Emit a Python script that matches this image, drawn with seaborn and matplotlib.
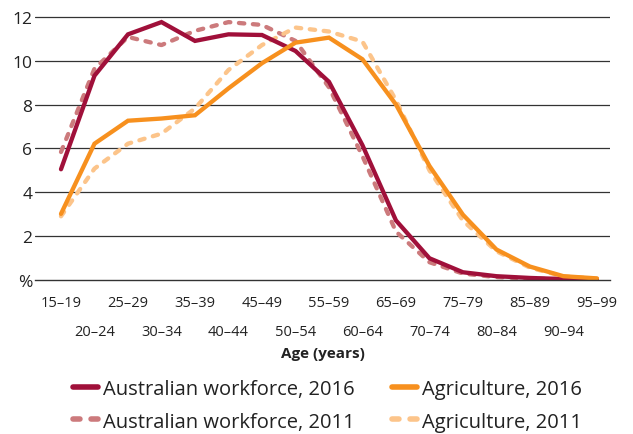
import pandas as pd
import matplotlib.pyplot as plt
import seaborn as sns

sns.set_style("white")
plt.rcParams['font.family'] = ['Open Sans', 'DejaVu Sans']

age_groups = ['15–19', '20–24', '25–29', '30–34', '35–39', '40–44', '45–49',
              '50–54', '55–59', '60–64', '65–69', '70–74', '75–79', '80–84',
              '85–89', '90–94', '95–99']

workforce_2016 = [5.05, 9.33, 11.22, 11.78, 10.92, 11.22, 11.19, 10.46, 9.05,
                  6.15, 2.71, 0.98, 0.34, 0.16, 0.08, 0.03, 0.01]
workforce_2011 = [5.84, 9.65, 11.1, 10.73, 11.38, 11.78, 11.65, 10.92, 8.8,
                  5.65, 2.2, 0.8, 0.28, 0.12, 0.05, 0.02, 0.01]
agri_2016 = [3.01, 6.22, 7.27, 7.37, 7.52, 8.75, 9.9, 10.84, 11.07,
             10.08, 8.01, 5.2, 2.97, 1.38, 0.6, 0.16, 0.06]
agri_2011 = [2.9, 5.08, 6.22, 6.68, 7.83, 9.59, 10.73, 11.53, 11.35,
             10.89, 8.21, 5.0, 2.7, 1.3, 0.55, 0.15, 0.05]

series_names = ['Australian workforce, 2016', 'Australian workforce, 2011',
                'Agriculture, 2016', 'Agriculture, 2011']
series_values = [workforce_2016, workforce_2011, agri_2016, agri_2011]
colors = ['#a0103a', '#cc7a7c', '#f7901e', '#fcc48a']
dashed = [False, True, False, True]

rows = []
for name, vals in zip(series_names, series_values):
    for i, v in enumerate(vals):
        rows.append({'pos': i, 'value': v, 'series': name})
df = pd.DataFrame(rows)

fig = plt.figure(figsize=(6.33, 4.35), dpi=100)
ax = fig.add_axes([35 / 633, 1 - 280.7 / 435, 575 / 633, 264.6 / 435])

# draw 2011 first so the 2016 lines sit on top
draw_order = [1, 3, 0, 2]
for k in draw_order:
    sub = df[df['series'] == series_names[k]]
    sns.lineplot(data=sub, x='pos', y='value', ax=ax, color=colors[k],
                 linewidth=3.1, label=series_names[k], legend=False)
    ln = ax.lines[-1]
    if dashed[k]:
        ln.set_dashes((1.25, 2.0))
        ln.set_dash_capstyle('round')
    ln.set_solid_joinstyle('miter')

ax.set_xlim(-0.776, 16.39)
ax.set_ylim(0, 12.1)

# grid lines
for yv in range(2, 13, 2):
    ax.axhline(yv, color='#333333', linewidth=0.9, zorder=0)

for s in ['top', 'right', 'left']:
    ax.spines[s].set_visible(False)
ax.spines['bottom'].set_color('#333333')
ax.spines['bottom'].set_linewidth(1)

ax.set_yticks(range(0, 13, 2))
ax.set_yticklabels(['%', '2', '4', '6', '8', '10', '12'])
ax.tick_params(axis='y', length=0, pad=2, labelsize=12.5, labelcolor='#222222')

ax.set_xticks(range(0, 17, 2))
ax.set_xticklabels(age_groups[0::2])
ax.set_xticks(range(1, 17, 2), minor=True)
ax.set_xticklabels(age_groups[1::2], minor=True)
ax.tick_params(axis='x', which='major', direction='out', length=5, width=1,
               color='#333333', pad=6, labelsize=10.5, labelcolor='#222222')
ax.tick_params(axis='x', which='minor', direction='out', length=26, width=1,
               color='#333333', pad=6, labelsize=10.5, labelcolor='#222222')
ax.set_xlabel('')
ax.set_ylabel('')

fig.text(323 / 633, 1 - 354 / 435, 'Age (years)', ha='center', va='center',
         fontsize=11, fontweight='bold', color='#222222')

handles, labels = ax.get_legend_handles_labels()
order = [labels.index(n) for n in series_names]
leg = fig.legend([handles[i] for i in order], [labels[i] for i in order],
                 loc='center', bbox_to_anchor=(327.5 / 633, 1 - 406.5 / 435),
                 ncol=2, frameon=False, fontsize=14.5, handlelength=1.24,
                 handletextpad=0.25, columnspacing=1.84, labelspacing=0.6,
                 borderpad=0)
for t in leg.get_texts():
    t.set_color('#222222')
for h in leg.legend_handles:
    h.set_linewidth(4)
    h.set_solid_capstyle('round')

fig.savefig('out.png', dpi=100)
